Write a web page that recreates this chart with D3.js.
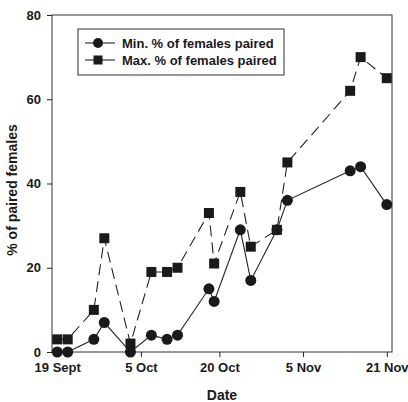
<!DOCTYPE html>
<html>
<head>
<meta charset="utf-8">
<script src="https://cdnjs.cloudflare.com/ajax/libs/d3/7.8.5/d3.min.js"></script>
<style>
body { margin: 0; background: #fff; }
svg { display: block; }
text { font-family: "Liberation Sans", Arial, sans-serif; font-weight: bold; fill: #1a1a1a; }
.axis path, .axis line { stroke: #222; stroke-width: 1; }
</style>
</head>
<body>
<div id="chart"></div>
<script>
// sampling dates (month-day)
var dates = ["09-19","09-21","09-26","09-28","10-03","10-07","10-10","10-12","10-18",
             "10-19","10-24","10-26","10-31","11-02","11-14","11-16","11-21"];
var minPaired = [0, 0, 3, 7, 0, 4, 3, 4, 15, 12, 29, 17, 29, 36, 43, 44, 35];
var maxPaired = [3, 3, 10, 27, 2, 19, 19, 20, 33, 21, 38, 25, 29, 45, 62, 70, 65];
var tickDates = ["09-19", "10-05", "10-20", "11-05", "11-21"];
var tickLabels = ["19 Sept", "5 Oct", "20 Oct", "5 Nov", "21 Nov"];
var yTicks = [0, 20, 40, 60, 80];

var parse = d3.timeParse("%Y-%m-%d");
function day(s) { return parse("1990-" + s); }

var W = 408, H = 402,
    margin = {top: 15, right: 16, bottom: 50, left: 52},
    width = W - margin.left - margin.right,
    height = H - margin.top - margin.bottom;

var svg = d3.select("#chart").append("svg")
    .attr("width", W).attr("height", H);
var g = svg.append("g")
    .attr("transform", "translate(" + margin.left + "," + margin.top + ")");

var x = d3.scaleTime().domain([day("09-18"), day("11-22")]).range([0, width]);
var y = d3.scaleLinear().domain([0, 80]).range([height, 0]);

// frame
g.append("rect")
  .attr("width", width).attr("height", height)
  .attr("fill", "none").attr("stroke", "#333").attr("stroke-width", 1);

g.append("g").attr("class", "axis")
  .attr("transform", "translate(0," + height + ")")
  .call(d3.axisBottom(x)
    .tickValues(tickDates.map(day))
    .tickFormat(function(d, i) { return tickLabels[i]; })
    .tickSize(5).tickPadding(6))
  .call(function(a) { a.select(".domain").remove(); })
  .selectAll("text").style("font-size", "13px");

g.append("g").attr("class", "axis")
  .call(d3.axisLeft(y).tickValues(yTicks).tickSize(5).tickPadding(6))
  .call(function(a) { a.select(".domain").remove(); })
  .selectAll("text").style("font-size", "13px");

// axis titles
svg.append("text")
  .attr("x", 222).attr("y", 400)
  .attr("text-anchor", "middle").style("font-size", "14px")
  .text("Date");
svg.append("text")
  .attr("transform", "translate(17,190) rotate(-90)")
  .attr("text-anchor", "middle").style("font-size", "14px")
  .text("% of paired females");

var rows = dates.map(function(d, i) {
  return {date: day(d), min: minPaired[i], max: maxPaired[i]};
});

var lineMin = d3.line().x(function(d) { return x(d.date); }).y(function(d) { return y(d.min); });
var lineMax = d3.line().x(function(d) { return x(d.date); }).y(function(d) { return y(d.max); });

g.append("path").datum(rows)
  .attr("d", lineMax).attr("fill", "none")
  .attr("stroke", "#222").attr("stroke-width", 1.1)
  .attr("stroke-dasharray", "11,6");

g.append("path").datum(rows)
  .attr("d", lineMin).attr("fill", "none")
  .attr("stroke", "#222").attr("stroke-width", 1.1);

g.selectAll(".sq").data(rows).enter().append("rect")
  .attr("class", "sq")
  .attr("x", function(d) { return x(d.date) - 5; })
  .attr("y", function(d) { return y(d.max) - 5; })
  .attr("width", 10).attr("height", 10)
  .attr("fill", "#1a1a1a");

g.selectAll(".dot").data(rows).enter().append("circle")
  .attr("class", "dot")
  .attr("cx", function(d) { return x(d.date); })
  .attr("cy", function(d) { return y(d.min); })
  .attr("r", 5.5)
  .attr("fill", "#1a1a1a");

// legend
var leg = svg.append("g").attr("transform", "translate(78,29)");
leg.append("rect")
  .attr("width", 206).attr("height", 46)
  .attr("fill", "#fff").attr("stroke", "#333").attr("stroke-width", 1);

var items = [
  {label: "Min. % of females paired", shape: "circle"},
  {label: "Max. % of females paired", shape: "square"}
];
items.forEach(function(it, i) {
  var yy = 14 + i * 17;
  leg.append("line")
    .attr("x1", 7).attr("x2", 37).attr("y1", yy).attr("y2", yy)
    .attr("stroke", "#222").attr("stroke-width", 1.1);
  if (it.shape === "circle") {
    leg.append("circle").attr("cx", 20).attr("cy", yy).attr("r", 5).attr("fill", "#1a1a1a");
  } else {
    leg.append("rect").attr("x", 15.5).attr("y", yy - 4.5).attr("width", 9).attr("height", 9).attr("fill", "#1a1a1a");
  }
  leg.append("text")
    .attr("x", 44).attr("y", yy + 5)
    .style("font-size", "13px")
    .text(it.label);
});
</script>
</body>
</html>
